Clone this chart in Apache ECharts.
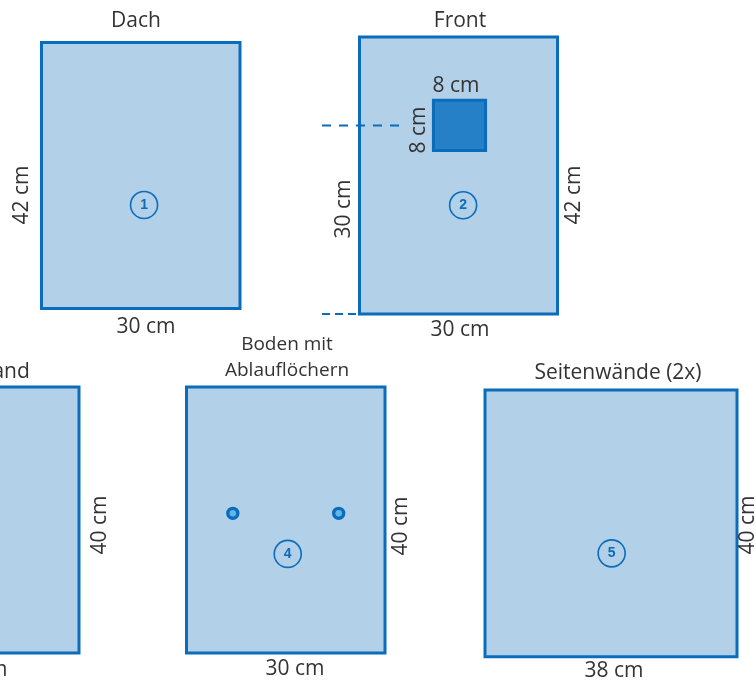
<!DOCTYPE html>
<html><head><meta charset="utf-8">
<style>html,body{margin:0;padding:0;background:#fff;overflow:hidden}#c{width:756px;height:680px}</style>
<script src="https://cdn.jsdelivr.net/npm/echarts@6/dist/echarts.min.js"></script>
</head><body><div id="c"></div>
<script>
// panel sizes in cm
const panelNumbers = ['1','2','3','4','5'];
const panelWidths  = [30,30,30,30,38];
const panelHeights = [42,42,40,40,40];
// numbered badge position inside each panel, cm from lower left
const badgeX = [15.5,15.7,15,15.3,19.1];
const badgeY = [16.35,16.5,15,14.9,15.5];
// window in the front panel, cm
const windowRect = [11.2,24.8,19.1,32.4];
// drain holes in the floor panel, cm
const holeX = [7,23];
const holeY = [21,21];
// dimension lines on the front panel, cm
const dashTop = [-5.68,28.6,6.14,28.6];
const dashBottom = [-5.68,0,0,0];
// texts
const labelTexts = ['Dach','Front','30 cm','42 cm','8 cm','8 cm','30 cm','42 cm','30 cm','Rückwand','40 cm','30 cm','Boden mit','Ablauflöchern','40 cm','30 cm','Seitenwände (2x)','38 cm','40 cm'];

// page layout: left, top, width, height and the first visible cm on the x axis
const boxes = [[41.5,42.5,198.5,266,0],[322,37,235.5,277,-5.68],[0,387,79,266,18.03],[186.5,387,198.5,266,0],[485,390,252,266.7,0]];
const labelPos = [[136,21,0,21],[460,21,0,21],[146,327,0,21],[22,195,90,21],[456,86,0,21],[419,130,90,21],[344,209,90,21],[574,195,90,21],[460,330,0,21],[-20.5,372,0,21],[100,525,90,21],[-22,670,0,21],[287,345,0,19],[287,371,0,19],[401,526,90,21],[295,669,0,21],[618,373,0,21],[614,671,0,21],[748,525,90,21]];

const BLUE='#0a6cbb', FILL='#b2d0e8', INK='#333333';
const grids=[], xAxes=[], yAxes=[], series=[];
function rectItem(params, api){
  const a=api.coord([api.value(0),api.value(1)]), b=api.coord([api.value(2),api.value(3)]);
  return {type:'rect',shape:{x:Math.min(a[0],b[0]),y:Math.min(a[1],b[1]),width:Math.abs(a[0]-b[0]),height:Math.abs(a[1]-b[1])},
    style:{fill:api.value(4)?'#2680c8':FILL,stroke:BLUE,lineWidth:3,lineJoin:'miter'}};
}
panelNumbers.forEach((n,i)=>{
  const b=boxes[i];
  grids.push({left:b[0],top:b[1],width:b[2],height:b[3],containLabel:false});
  xAxes.push({type:'value',gridIndex:i,min:b[4],max:panelWidths[i],show:false});
  yAxes.push({type:'value',gridIndex:i,min:0,max:panelHeights[i],show:false});
  const rows=[[0,0,panelWidths[i],panelHeights[i],0]];
  if(i===1) rows.push([...windowRect,1]);
  series.push({type:'custom',xAxisIndex:i,yAxisIndex:i,silent:true,clip:false,z:1,data:rows,
    encode:{x:[0,2],y:[1,3]},renderItem:rectItem});
  series.push({type:'scatter',xAxisIndex:i,yAxisIndex:i,silent:true,z:3,
    data:[[badgeX[i],badgeY[i]]],symbol:'circle',symbolSize:27,
    itemStyle:{opacity:1,color:'rgba(0,0,0,0)',borderColor:BLUE,borderWidth:1.6},
    label:{show:true,position:'inside',formatter:n,color:BLUE,fontFamily:'Liberation Sans',fontSize:14,fontWeight:'bold'}});
  if(i===3) series.push({type:'scatter',xAxisIndex:i,yAxisIndex:i,silent:true,z:3,
    data:holeX.map((x,k)=>[x,holeY[k]]),symbol:'circle',symbolSize:10,
    itemStyle:{opacity:1,color:'#62b4e6',borderColor:BLUE,borderWidth:3.4}});
  if(i===1) [[dashTop,[9,8]],[dashBottom,[8,5]]].forEach(([d,p])=>series.push({type:'line',xAxisIndex:i,yAxisIndex:i,silent:true,z:4,
    clip:false,symbol:'none',data:[[d[0],d[1]],[d[2],d[3]]],
    lineStyle:{color:BLUE,width:2,type:p}}));
});
// page-sized overlay grid that carries the texts
const L=panelNumbers.length;
grids.push({left:0,top:0,right:0,bottom:0});
xAxes.push({type:'value',gridIndex:L,min:0,max:756,show:false});
yAxes.push({type:'value',gridIndex:L,min:0,max:680,inverse:true,show:false});
series.push({type:'scatter',xAxisIndex:L,yAxisIndex:L,silent:true,clip:false,z:5,symbolSize:0,itemStyle:{opacity:1},
  data:labelTexts.map((t,i)=>({value:[labelPos[i][0],labelPos[i][1]],
    label:{show:true,position:'inside',formatter:t,rotate:labelPos[i][2],fontSize:labelPos[i][3],color:INK,fontFamily:'Open Sans',align:'center',verticalAlign:'middle'}}))});

const chart=echarts.init(document.getElementById('c'),null,{renderer:'canvas'});
chart.setOption({animation:false,backgroundColor:'#fff',grid:grids,xAxis:xAxes,yAxis:yAxes,series:series});
</script></body></html>
